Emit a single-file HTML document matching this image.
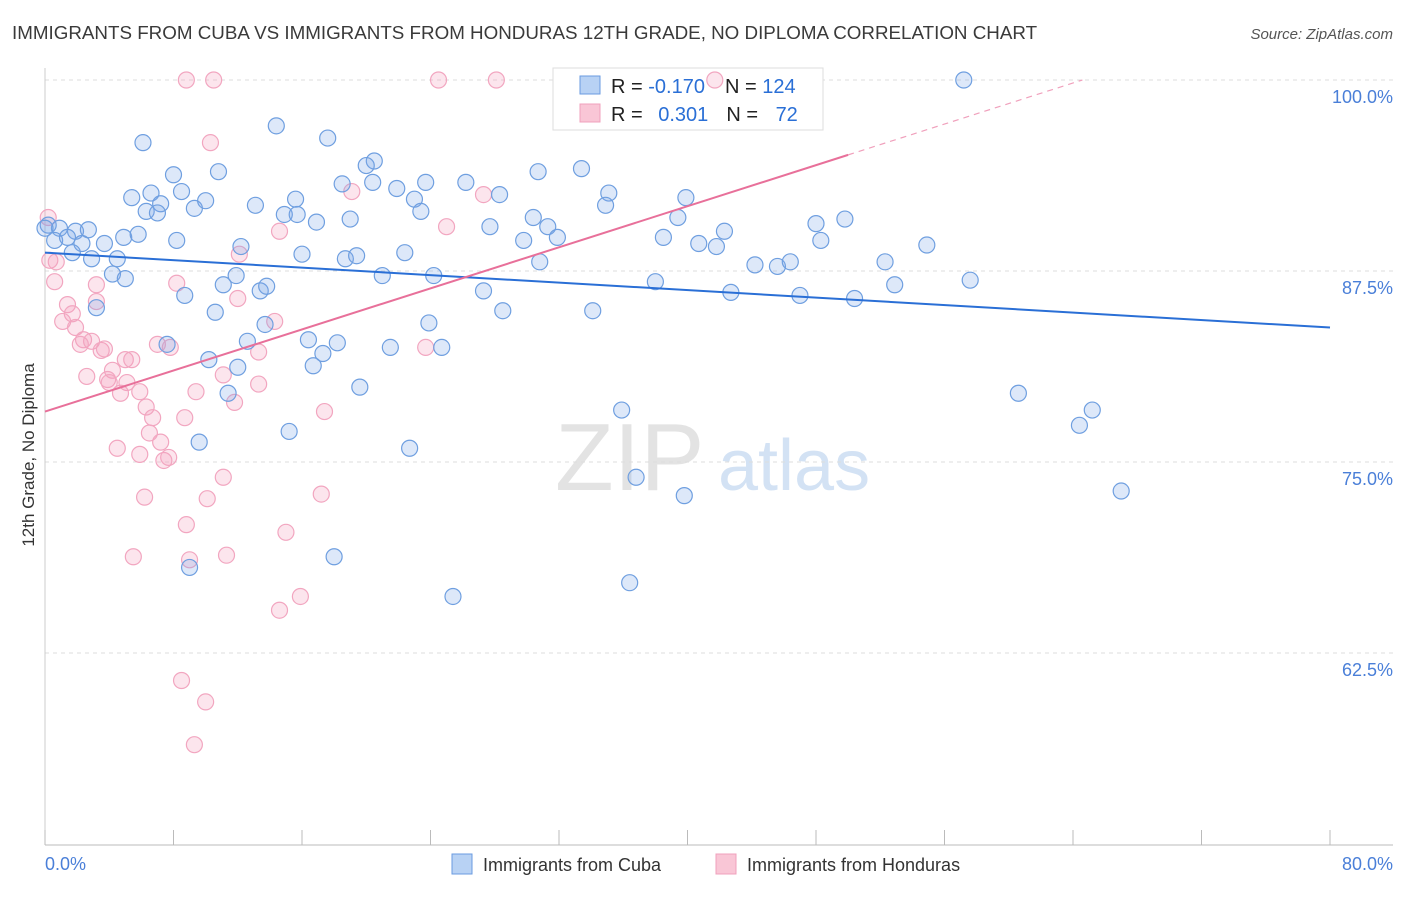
<!DOCTYPE html>
<html><head><meta charset="utf-8"><style>
body{margin:0;background:#fff;width:1406px;height:892px;overflow:hidden;font-family:"Liberation Sans",sans-serif}
svg text{font-family:"Liberation Sans",sans-serif}
</style></head><body>
<svg id="chart" width="1406" height="892" viewBox="0 0 1406 892" xmlns="http://www.w3.org/2000/svg">
<text x="12" y="39" font-size="18.8" fill="#3a3a3a">IMMIGRANTS FROM CUBA VS IMMIGRANTS FROM HONDURAS 12TH GRADE, NO DIPLOMA CORRELATION CHART</text>
<text x="1393" y="39" font-size="15" fill="#555" font-style="italic" text-anchor="end">Source: ZipAtlas.com</text>
<g opacity="0.5">
<text x="555" y="490" font-size="96" fill="#c8c8c8" font-family="Liberation Serif, serif">ZIP</text>
<text x="718" y="490" font-size="72" fill="#a9c6ea">atlas</text>
</g>
<g id="grid"></g>
<g id="axes"></g>
<g>
<rect x="553" y="68" width="270" height="62" fill="#fff" stroke="#ddd"/>
<rect x="580" y="76" width="20" height="18" fill="#b8d2f4" stroke="#6a9be0"/>
<rect x="580" y="104" width="20" height="18" fill="#f9c6d6" stroke="#f0a0bc"/>
<text x="611" y="93" font-size="20" fill="#222">R = <tspan fill="#2a6fd6">-0.170</tspan><tspan dx="20">N = </tspan><tspan fill="#2a6fd6">124</tspan></text>
<text x="611" y="121" font-size="20" fill="#222">R = <tspan dx="10" fill="#2a6fd6">0.301</tspan><tspan dx="18">N = </tspan><tspan dx="12" fill="#2a6fd6">72</tspan></text>
</g>
<g id="marks"></g>
<g id="trends"></g>
<text transform="translate(34,455) rotate(-90)" font-size="17" fill="#333" text-anchor="middle">12th Grade, No Diploma</text>
<g>
<rect x="452" y="854" width="20" height="20" fill="#b8d2f4" stroke="#6a9be0"/>
<text x="483" y="871" font-size="18" fill="#333">Immigrants from Cuba</text>
<rect x="716" y="854" width="20" height="20" fill="#f9c6d6" stroke="#f0a0bc"/>
<text x="747" y="871" font-size="18" fill="#333">Immigrants from Honduras</text>
</g>
</svg>
<script>
const cubaX=[57.2,14.4,6.1,17.6,20.5,20.0,8.0,10.8,30.7,33.4,6.6,5.4,8.5,7.2,6.3,7.0,9.3,10.0,13.1,18.5,20.4,21.9,23.7,26.2,15.6,23.0,28.3,35.1,39.9,34.9,14.9,15.7,16.9,19.0,23.4,30.4,31.3,27.7,39.4,48.0,49.8,0.2,0.9,1.9,2.7,0.6,1.4,2.3,3.7,4.9,5.8,8.2,12.2,16.0,18.7,19.4,22.4,29.8,31.9,38.5,40.7,42.3,41.8,48.3,54.9,1.7,2.9,4.5,4.2,5.0,11.9,11.1,21.0,24.2,30.8,44.2,45.6,46.4,52.3,38.0,57.6,8.7,13.4,13.8,27.3,42.7,47.0,50.4,52.9,3.2,10.6,28.5,34.1,13.7,23.9,12.6,16.4,18.2,21.5,24.7,7.6,10.2,17.3,16.7,12.0,19.6,11.4,60.6,65.2,35.9,15.2,64.4,9.6,22.7,36.8,39.8,67.0,18.0,9.0,36.4,25.4,0.0];
const cubaY=[100.0,97.0,95.9,96.2,94.7,94.4,93.8,94.0,94.0,94.2,92.6,92.3,92.7,91.9,91.4,91.3,91.6,92.1,91.8,93.2,93.3,92.9,93.3,93.3,92.2,92.2,92.5,92.6,92.3,91.8,91.2,91.2,90.7,90.9,91.4,91.0,90.4,90.4,91.0,90.6,90.9,90.5,90.3,90.1,90.2,89.5,89.7,89.3,89.3,89.7,89.9,89.5,89.1,88.6,88.3,88.5,88.7,89.5,89.7,89.7,89.3,90.1,89.1,89.5,89.2,88.7,88.3,88.3,87.3,87.0,87.2,86.6,87.2,87.2,88.1,87.9,87.8,88.1,88.1,86.8,86.9,85.9,86.2,86.5,86.2,86.1,85.9,85.7,86.6,85.1,84.8,84.9,84.9,84.0,84.1,82.9,83.0,82.8,82.5,82.5,82.7,81.7,82.1,81.3,81.2,79.9,79.5,79.5,78.4,78.4,77.0,77.4,76.3,75.9,74.0,72.8,73.1,68.8,68.1,67.1,66.2,90.3];
const hondX=[8.8,10.5,24.5,28.1,41.7,10.3,19.1,27.3,14.6,25.0,12.1,0.2,0.3,0.6,0.7,8.2,12.0,3.2,1.4,1.7,1.1,3.2,1.9,2.4,2.9,3.5,3.7,2.2,14.3,13.3,23.7,7.8,7.0,5.0,5.4,2.6,4.2,3.9,4.0,5.1,5.9,9.4,11.1,13.3,4.7,11.8,17.4,6.3,6.7,6.5,8.7,7.2,4.5,5.9,7.4,7.7,11.1,6.2,10.1,17.2,8.8,15.0,5.5,9.0,11.3,15.9,14.6,8.5,10.0,9.3];
const hondY=[100,100,100,100,100,95.9,92.7,92.5,90.1,90.4,88.6,91.0,88.2,86.8,88.1,86.7,85.7,86.6,85.3,84.7,84.2,85.5,83.8,83.0,82.9,82.3,82.4,82.7,84.2,82.2,82.5,82.5,82.7,81.7,81.7,80.6,81.0,80.4,80.2,80.2,79.6,79.6,80.7,80.1,79.5,78.9,78.3,78.6,77.9,76.9,77.9,76.3,75.9,75.5,75.1,75.3,74.0,72.7,72.6,72.9,70.9,70.4,68.8,68.6,68.9,66.2,65.3,60.7,59.3,56.5];
const yTicks=[100,87.5,75,62.5];
const yTickLabels=["100.0%","87.5%","75.0%","62.5%"];
const xTickVals=[0,8,16,24,32,40,48,56,64,72,80];
const xEndLabels=["0.0%","80.0%"];
const cubaTrend=[88.7,83.8];
const hondTrend=[78.3,0.336];
const hondSolidEnd=[50.0];

const NS="http://www.w3.org/2000/svg";
const X=v=>45+v*(1285/80);
const Y=v=>80+(100-v)*(191/12.5);
function mk(tag,attrs,parent){const e=document.createElementNS(NS,tag);for(const k in attrs)e.setAttribute(k,attrs[k]);parent.appendChild(e);return e;}
const grid=document.getElementById('grid'),axes=document.getElementById('axes'),marks=document.getElementById('marks'),trends=document.getElementById('trends');
yTicks.forEach((t,i)=>{
 const l=mk('line',{x1:45,x2:1393,y1:Y(t),y2:Y(t),stroke:'#ddd','stroke-dasharray':'4,4'},grid);
 
 
 const tx=mk('text',{x:1393,y:Y(t)+23,'font-size':18,fill:'#4a7fd8','text-anchor':'end'},axes);
 tx.textContent=yTickLabels[i];
 
 
});
const xa=mk('line',{x1:45,x2:1393,y1:845,y2:845,stroke:'#bbb'},axes);


const ya=mk('line',{x1:45,x2:45,y1:68,y2:845,stroke:'#ccc'},axes);


xTickVals.forEach(v=>{
 const t=mk('line',{x1:X(v),x2:X(v),y1:830,y2:845,stroke:'#bbb'},axes);
 
 
});
const xl0=mk('text',{x:45,y:870,'font-size':18,fill:'#4a7fd8'},axes);xl0.textContent=xEndLabels[0];


const xl1=mk('text',{x:1393,y:870,'font-size':18,fill:'#4a7fd8','text-anchor':'end'},axes);xl1.textContent=xEndLabels[1];



hondX.forEach((v,i)=>{
 const c=mk('circle',{cx:X(v),cy:Y(hondY[i]),r:8,fill:'rgba(244,160,190,0.28)',stroke:'#f2a6c0','stroke-width':1.2},marks);
 
 
});
cubaX.forEach((v,i)=>{
 const c=mk('circle',{cx:X(v),cy:Y(cubaY[i]),r:8,fill:'rgba(120,165,230,0.25)',stroke:'#6f9fe0','stroke-width':1.2},marks);
 
 
});
const bt=mk('line',{x1:X(0),y1:Y(cubaTrend[0]),x2:X(80),y2:Y(cubaTrend[1]),stroke:'#2a6fd6','stroke-width':2},trends);


const hy=x=>hondTrend[0]+hondTrend[1]*x;
const xEnd=(100-hondTrend[0])/hondTrend[1];
const pt=mk('line',{x1:X(0),y1:Y(hy(0)),x2:X(hondSolidEnd[0]),y2:Y(hy(hondSolidEnd[0])),stroke:'#e8709a','stroke-width':2},trends);


const pd=mk('line',{x1:X(hondSolidEnd[0]),y1:Y(hy(hondSolidEnd[0])),x2:X(xEnd),y2:Y(100),stroke:'#f0a0bc','stroke-width':1.2,'stroke-dasharray':'6,5'},trends);


</script>
</body></html>
